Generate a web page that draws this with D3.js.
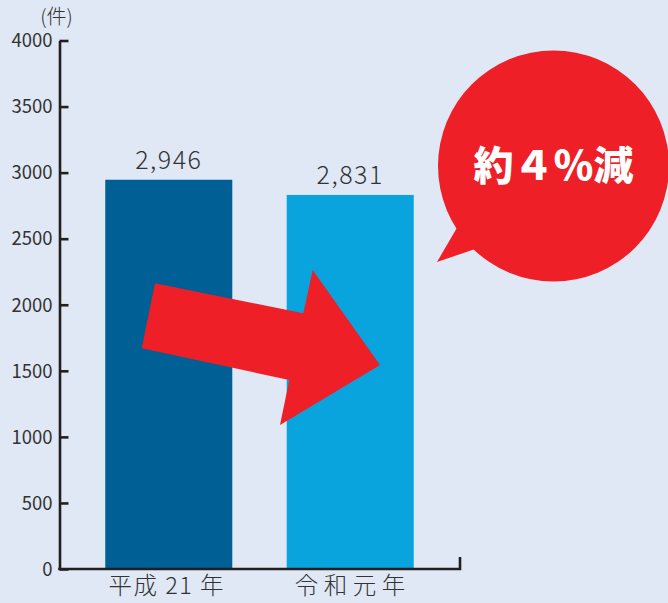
<!DOCTYPE html>
<html><head><meta charset="utf-8">
<script src="https://cdn.jsdelivr.net/npm/d3@7"></script>
<style>
html,body{margin:0;padding:0;background:#e0e8f5;}
svg{display:block;}
</style></head>
<body>
<svg id="chart" width="668" height="603"></svg>
<script>
// ---- data ----
const categories = ["平成 21 年", "令和元年"];
const values = [2946, 2831];
const valueLabels = ["2,946", "2,831"];
const barColors = ["#005f95", "#09a3de"];
const yTicks = [0, 500, 1000, 1500, 2000, 2500, 3000, 3500, 4000];
const unitLabel = "(件)";
const calloutText = "約４％減";

const svg = d3.select("#chart");
const W = 668, H = 603;
svg.append("rect").attr("width", W).attr("height", H).attr("fill", "#e0e8f5");

const y = d3.scaleLinear().domain([0, 4000]).range([569, 40.5]);
const x = d3.scaleBand().domain(categories).range([59, 460])
  .paddingInner(0.3).paddingOuter(0.255);

const axisColor = "#231f20";
const textColor = "#333333";
const font = "'Noto Sans CJK JP','Noto Sans',sans-serif";

// bars
svg.selectAll("rect.bar").data(values).join("rect")
  .attr("class", "bar")
  .attr("x", (d, i) => x(categories[i]))
  .attr("width", x.bandwidth())
  .attr("y", d => y(d))
  .attr("height", d => y(0) - y(d))
  .attr("fill", (d, i) => barColors[i]);

// value labels
svg.selectAll("text.val").data(values).join("text")
  .attr("class", "val")
  .attr("x", (d, i) => x(categories[i]) + x.bandwidth() / 2)
  .attr("y", d => y(d) - 11)
  .attr("text-anchor", "middle")
  .attr("font-family", font)
  .attr("font-weight", 300)
  .attr("font-size", 25)
  .attr("letter-spacing", 1.5)
  .attr("fill", textColor)
  .text((d, i) => valueLabels[i]);

// y axis
const yAxis = svg.append("g").attr("transform", "translate(59.5,0)")
  .call(d3.axisLeft(y).tickValues(yTicks).tickFormat(d3.format("d"))
    .tickSizeInner(-9).tickSizeOuter(0).tickPadding(7));
yAxis.select(".domain").attr("stroke", axisColor).attr("stroke-width", 2.6);
yAxis.selectAll(".tick line").attr("stroke", axisColor).attr("stroke-width", 2.6);
yAxis.selectAll(".tick text")
  .attr("font-family", font).attr("font-size", 18.5).attr("fill", textColor)
  .attr("dy", "0.34em");

// baseline with right end tick
svg.append("path")
  .attr("d", `M58.2,${y(0)}H${x.range()[1]}V${y(0) - 12}`)
  .attr("fill", "none").attr("stroke", axisColor).attr("stroke-width", 2.6);

// category labels
const xAxis = svg.append("g").attr("transform", `translate(0,${y(0)})`)
  .call(d3.axisBottom(x).tickSize(0).tickPadding(0));
xAxis.select(".domain").remove();
xAxis.selectAll(".tick text")
  .attr("y", 25).attr("dy", 0)
  .attr("font-family", font).attr("font-weight", 300).attr("font-size", 23.5)
  .attr("fill", textColor)
  .attr("letter-spacing", (d, i) => i === 1 ? 5.5 : 1.5)
  .attr("dx", (d, i) => i === 1 ? 2.5 : -2);

// unit label
svg.append("text").attr("x", 56.5).attr("y", 24)
  .attr("text-anchor", "middle")
  .attr("font-family", font).attr("font-weight", 300).attr("font-size", 20)
  .attr("fill", textColor).text(unitLabel);

// red arrow (annotation)
const arrowPts = [[155, 283.3], [303.3, 313.3], [312.7, 270], [380, 365],
  [280, 425], [289.3, 380], [141.7, 348.3]];
svg.append("polygon")
  .attr("points", arrowPts.map(p => p.join(",")).join(" "))
  .attr("fill", "#ee1f26");

// speech bubble
const bubble = svg.append("g");
bubble.append("circle").attr("cx", 553.5).attr("cy", 166).attr("r", 115.5)
  .attr("fill", "#ee1f26");
bubble.append("polygon").attr("points", "458,226 437,262 478,248")
  .attr("fill", "#ee1f26");
bubble.append("text").attr("x", 553.5).attr("y", 180)
  .attr("text-anchor", "middle")
  .attr("font-family", "'Noto Sans CJK JP',sans-serif")
  .attr("font-weight", 900).attr("font-size", 40)
  .attr("fill", "#ffffff").text(calloutText);
</script>
</body></html>
